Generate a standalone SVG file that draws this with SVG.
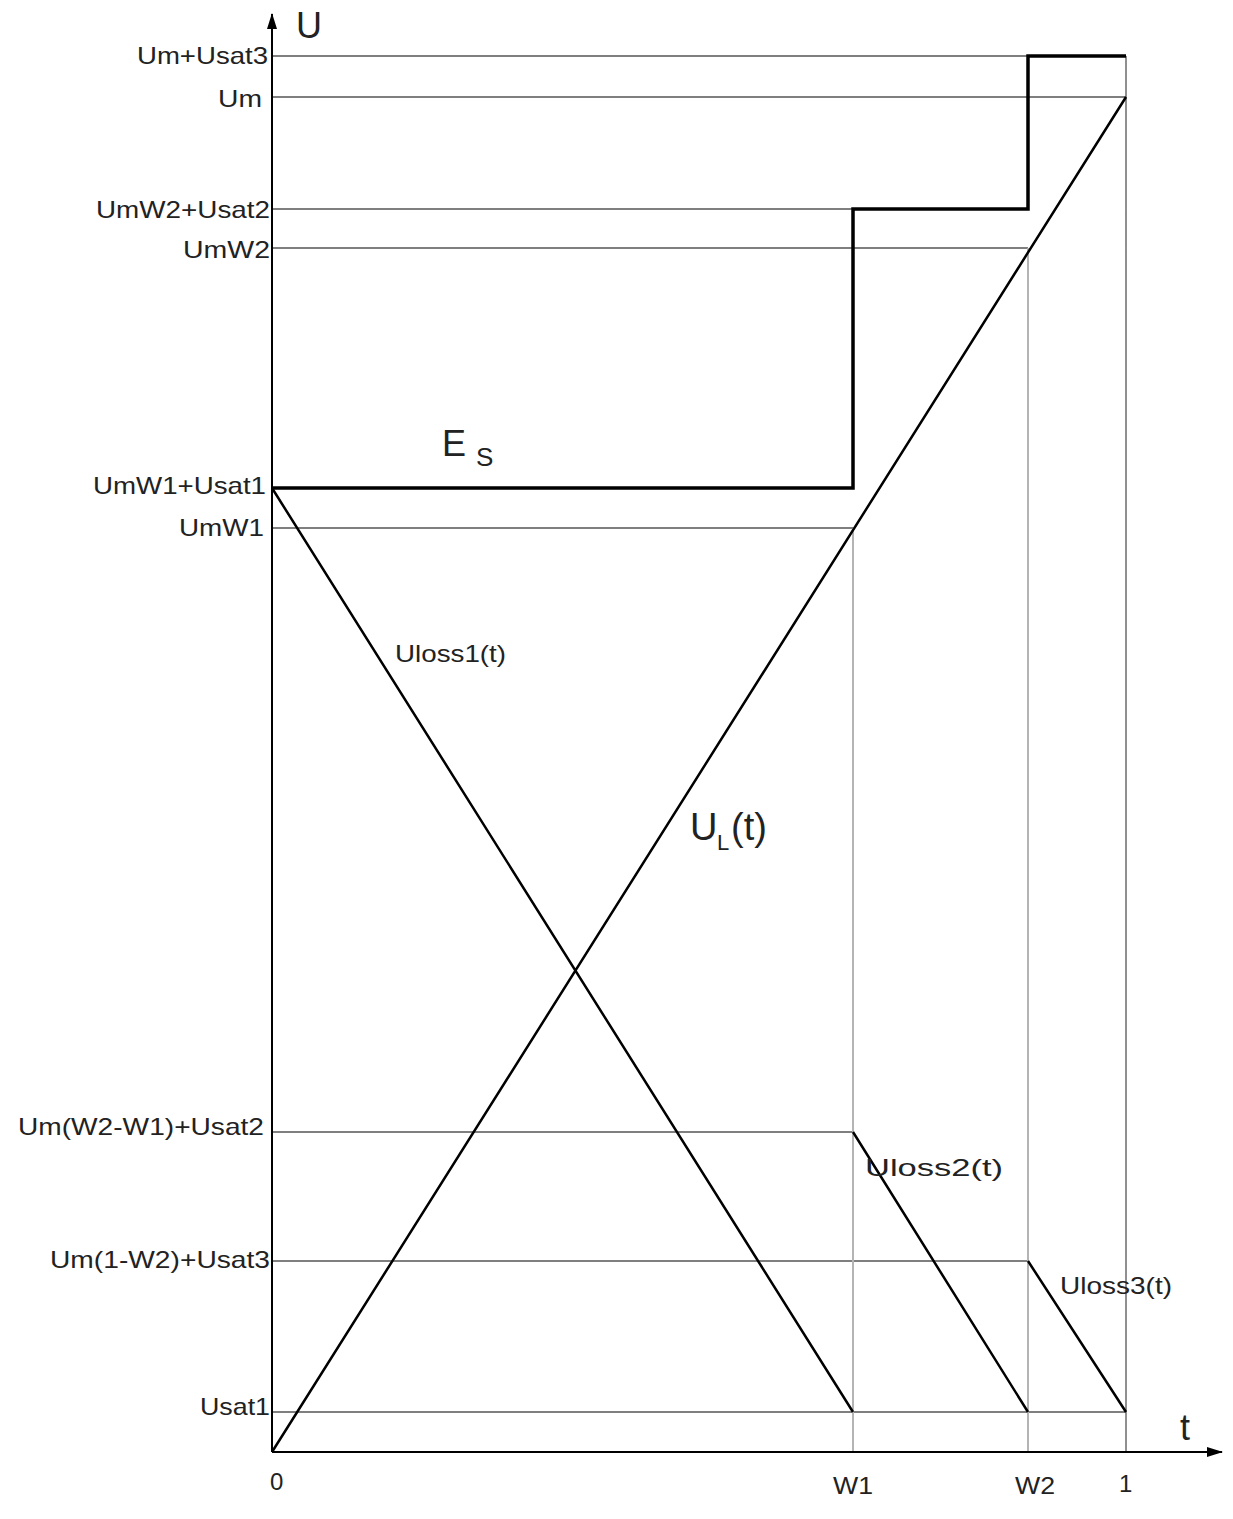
<svg xmlns="http://www.w3.org/2000/svg" width="1233" height="1519" viewBox="0 0 1233 1519">
<style>
.t{stroke:#555;stroke-width:1.3;fill:none}
.g{stroke:#b4b4b4;stroke-width:2;fill:none}
.k{stroke:#000;stroke-width:3.5;fill:none}
.m{stroke:#000;stroke-width:2.5;fill:none}
text{font-family:"Liberation Sans",Arial,sans-serif;fill:#222}
.y{font-size:24px;text-anchor:end}
.s{font-size:24px}
</style>
<defs><marker id="a" markerWidth="16" markerHeight="10" refX="15" refY="5" orient="auto" markerUnits="userSpaceOnUse"><path d="M0,0 L16,5 L0,10 Z" fill="#000"/></marker></defs>
<rect width="1233" height="1519" fill="#fff"/>
<g id="grid">
<path class="t" d="M272,56H1126M272,97H1126M272,209H1028M272,248H1028M272,528H853M272,1132H853M272,1261H1028M272,1412H1126M1126,56V1452"/>
<path class="g" d="M853,1452V528M1028,1452V248"/>
</g>
<g id="axes">
<line x1="272" y1="1452" x2="272" y2="14" stroke="#000" stroke-width="2" marker-end="url(#a)"/>
<line x1="272" y1="1452" x2="1222" y2="1452" stroke="#000" stroke-width="2" marker-end="url(#a)"/>
</g>
<g id="curves">
<path class="k" d="M272,488H853V209H1028V56H1126"/>
<path class="m" d="M272,1452L1126,97M272,488L853,1412M853,1132L1028,1412M1028,1261L1126,1412"/>
</g>
<g id="labels">
<text x="296" y="38" font-size="36">U</text>
<text x="1180" y="1440" font-size="36">t</text>
<text class="y" x="268" y="64" textLength="131" lengthAdjust="spacingAndGlyphs">Um+Usat3</text>
<text class="y" x="262" y="107" textLength="44" lengthAdjust="spacingAndGlyphs">Um</text>
<text class="y" x="270" y="218" textLength="174" lengthAdjust="spacingAndGlyphs">UmW2+Usat2</text>
<text class="y" x="270" y="258" textLength="87" lengthAdjust="spacingAndGlyphs">UmW2</text>
<text class="y" x="266" y="494" textLength="173" lengthAdjust="spacingAndGlyphs">UmW1+Usat1</text>
<text class="y" x="264" y="536" textLength="85" lengthAdjust="spacingAndGlyphs">UmW1</text>
<text class="y" x="264" y="1135" textLength="246" lengthAdjust="spacingAndGlyphs">Um(W2-W1)+Usat2</text>
<text class="y" x="270" y="1268" textLength="220" lengthAdjust="spacingAndGlyphs">Um(1-W2)+Usat3</text>
<text class="y" x="270" y="1415" textLength="70" lengthAdjust="spacingAndGlyphs">Usat1</text>
<text class="s" x="270" y="1490">0</text>
<text class="s" x="833" y="1494" textLength="40" lengthAdjust="spacingAndGlyphs">W1</text>
<text class="s" x="1015" y="1494" textLength="40" lengthAdjust="spacingAndGlyphs">W2</text>
<text class="s" x="1119" y="1492">1</text>
<text x="442" y="456" font-size="36">E</text><text x="476" y="466" font-size="26">S</text>
<text class="s" x="395" y="662" textLength="111" lengthAdjust="spacingAndGlyphs">Uloss1(t)</text>
<text x="690" y="840" font-size="38">U</text><text x="717" y="850" font-size="22">L</text><text x="731" y="840" font-size="38">(t)</text>
<text class="s" x="865" y="1176" textLength="138" lengthAdjust="spacingAndGlyphs">Uloss2(t)</text>
<text class="s" x="1060" y="1294" textLength="112" lengthAdjust="spacingAndGlyphs">Uloss3(t)</text>
</g>
</svg>
